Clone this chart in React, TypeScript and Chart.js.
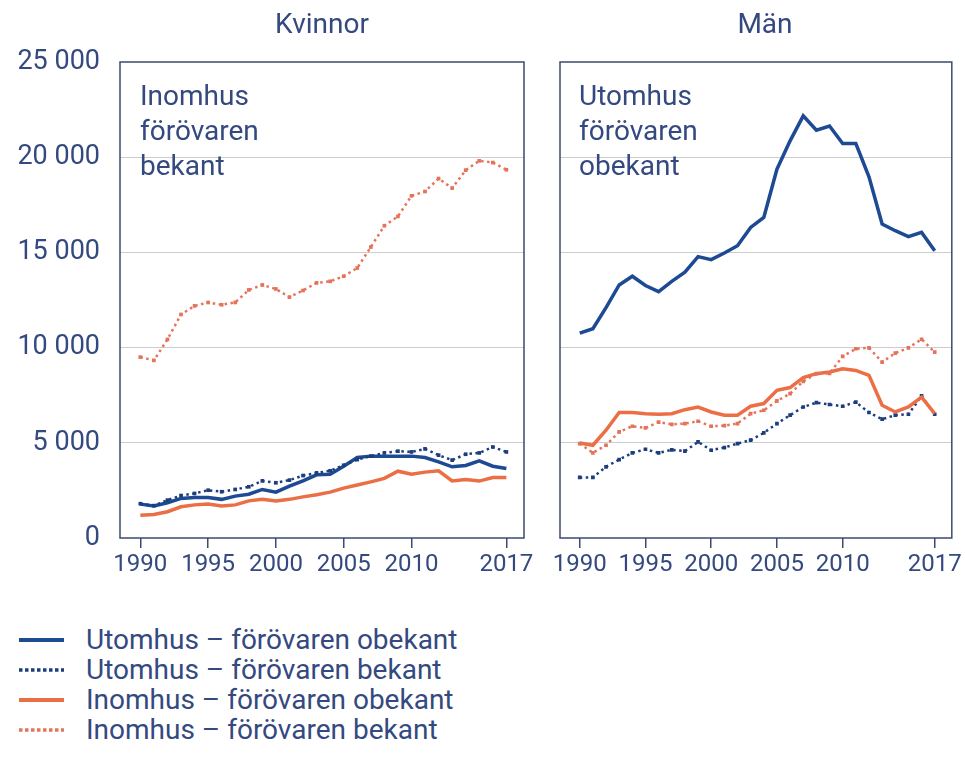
import { useEffect, useRef } from 'react';
import { Chart, registerables } from 'chart.js';

Chart.register(...registerables);

const years = [1990, 1991, 1992, 1993, 1994, 1995, 1996, 1997, 1998, 1999, 2000, 2001, 2002, 2003, 2004, 2005, 2006, 2007, 2008, 2009, 2010, 2011, 2012, 2013, 2014, 2015, 2016, 2017];
const xTickYears = [1990, 1995, 2000, 2005, 2010, 2017];
const yTickValues = [0, 5000, 10000, 15000, 20000, 25000];

const seriesLabels = [
  'Utomhus – förövaren obekant',
  'Utomhus – förövaren bekant',
  'Inomhus – förövaren obekant',
  'Inomhus – förövaren bekant',
];

// Kvinnor
const womenOutUnknown = [1780, 1680, 1850, 2080, 2130, 2130, 2030, 2200, 2300, 2550, 2410, 2720, 3000, 3320, 3350, 3770, 4230, 4300, 4300, 4300, 4300, 4230, 4000, 3740, 3810, 4050, 3770, 3650];
const womenOutKnown = [1800, 1700, 1990, 2230, 2340, 2510, 2430, 2550, 2690, 3000, 2900, 3040, 3280, 3420, 3530, 3820, 4120, 4300, 4470, 4560, 4520, 4680, 4350, 4090, 4400, 4470, 4780, 4520];
const womenInUnknown = [1200, 1240, 1380, 1640, 1740, 1780, 1680, 1740, 1950, 2030, 1950, 2030, 2160, 2270, 2410, 2620, 2780, 2950, 3130, 3510, 3350, 3460, 3530, 3000, 3070, 2990, 3180, 3180];
const womenInKnown = [9500, 9330, 10430, 11740, 12190, 12370, 12250, 12370, 13030, 13290, 13080, 12650, 13000, 13400, 13480, 13750, 14180, 15280, 16400, 16890, 17970, 18200, 18880, 18380, 19320, 19810, 19720, 19340];

// Män
const menOutUnknown = [10760, 10990, 12100, 13290, 13750, 13260, 12940, 13480, 13960, 14780, 14620, 14970, 15350, 16310, 16840, 19370, 20860, 22170, 21420, 21640, 20720, 20720, 18970, 16490, 16140, 15830, 16050, 15090];
const menOutKnown = [3180, 3180, 3740, 4120, 4470, 4660, 4470, 4630, 4560, 5050, 4610, 4750, 4960, 5140, 5520, 6010, 6450, 6880, 7110, 7010, 6920, 7140, 6590, 6240, 6450, 6500, 7460, 6500];
const menInUnknown = [4990, 4870, 5660, 6590, 6590, 6530, 6500, 6530, 6740, 6880, 6620, 6450, 6450, 6920, 7060, 7760, 7900, 8420, 8630, 8720, 8890, 8800, 8540, 6970, 6620, 6880, 7400, 6530];
const menInKnown = [4960, 4470, 4870, 5570, 5870, 5780, 6090, 5970, 6010, 6130, 5870, 5900, 6010, 6530, 6710, 7200, 7580, 8230, 8630, 8650, 9540, 9940, 9990, 9240, 9710, 9990, 10440, 9760];

const BLUE = '#1d4a92';
const BLUE_DOT = '#1c3d7e';
const ORANGE = '#eb6e45';
const ORANGE_DOT = '#e5735a';
const TEXT = '#34497f';
const FRAME = '#3b4a6d';
const GRID = '#cdcdcd';
const FONT = 'Roboto, "Noto Sans", sans-serif';

const seriesColors = [BLUE, BLUE_DOT, ORANGE, ORANGE_DOT];
const seriesDotted = [false, true, false, true];

const framePlugin = {
  id: 'frameBox',
  afterDraw(chart: any) {
    const { ctx, chartArea } = chart;
    ctx.save();
    ctx.strokeStyle = FRAME;
    ctx.lineWidth = 1.5;
    ctx.strokeRect(chartArea.left, chartArea.top, chartArea.right - chartArea.left, chartArea.bottom - chartArea.top);
    ctx.restore();
  },
};

type PanelProps = {
  series: number[][];
  showYLabels: boolean;
  width: number;
  height: number;
  plotLeft: number;
  plotRight: number;
  plotTop: number;
  plotBottom: number;
};

function Panel({ series, showYLabels, width, height, plotLeft, plotRight, plotTop, plotBottom }: PanelProps) {
  const ref = useRef<HTMLCanvasElement | null>(null);
  useEffect(() => {
    if (!ref.current) return;
    const datasets = series.map((vals, i) => ({
      label: seriesLabels[i],
      data: years.map((y, j) => ({ x: y, y: vals[j] })),
      borderColor: seriesColors[i],
      backgroundColor: seriesColors[i],
      borderWidth: seriesDotted[i] ? 2.5 : 3.5,
      borderDash: seriesDotted[i] ? [2.5, 3.5] : [],
      pointRadius: seriesDotted[i] ? 2.6 : 0,
      pointStyle: 'rect',
      pointBorderWidth: 0,
      tension: 0,
      fill: false,
    }));
    const ordered = [datasets[3], datasets[2], datasets[1], datasets[0]];
    const chart = new Chart(ref.current, {
      type: 'line',
      data: { datasets: ordered as any },
      options: {
        animation: false,
        responsive: false,
        maintainAspectRatio: false,
        layout: { padding: { top: plotTop, right: width - plotRight, left: 0, bottom: 0 } },
        plugins: { legend: { display: false }, tooltip: { enabled: false }, title: { display: false } },
        scales: {
          x: {
            type: 'linear',
            min: 1988.5,
            max: 2018.3,
            afterBuildTicks: (scale: any) => {
              scale.ticks = xTickYears.map((v) => ({ value: v }));
            },
            afterFit: (scale: any) => {
              scale.height = height - plotBottom;
            },
            ticks: {
              autoSkip: false,
              maxRotation: 0,
              padding: 3,
              color: TEXT,
              font: { family: FONT, size: 24 },
              callback: (v: any) => String(v),
            },
            grid: { drawOnChartArea: false, drawTicks: true, tickLength: 10, color: FRAME, lineWidth: 1.5 },
            border: { display: false },
          },
          y: {
            type: 'linear',
            min: 0,
            max: 25000,
            afterBuildTicks: (scale: any) => {
              scale.ticks = yTickValues.map((v) => ({ value: v }));
            },
            afterFit: (scale: any) => {
              scale.width = plotLeft;
            },
            ticks: {
              display: showYLabels,
              padding: 20,
              color: TEXT,
              font: { family: FONT, size: 27 },
              callback: (v: any) => (v === 0 ? '0' : `${Math.round(v / 1000)} 000`),
            },
            grid: {
              drawTicks: false,
              color: (ctx: any) => (ctx.tick && (ctx.tick.value === 0 || ctx.tick.value === 25000) ? 'rgba(0,0,0,0)' : GRID),
              lineWidth: 1,
            },
            border: { display: false },
          },
        },
      },
      plugins: [framePlugin],
    });
    return () => chart.destroy();
  }, []);
  return <canvas ref={ref} width={width} height={height} style={{ width, height, display: 'block' }} />;
}

function LegendRow({ label, color, dotted, top }: { label: string; color: string; dotted: boolean; top: number }) {
  return (
    <div style={{ position: 'absolute', left: 0, top, height: 30, display: 'flex', alignItems: 'center' }}>
      <svg width={86} height={30} style={{ display: 'block' }}>
        <line
          x1={19}
          y1={15}
          x2={64}
          y2={15}
          stroke={color}
          strokeWidth={dotted ? 3.5 : 4}
          strokeDasharray={dotted ? '3.5 2.5' : undefined}
        />
      </svg>
      <span style={{ fontFamily: FONT, fontSize: 28, color: TEXT, lineHeight: '30px', whiteSpace: 'nowrap' }}>{label}</span>
    </div>
  );
}

export default function App() {
  const textStyle = { fontFamily: FONT, fontSize: 28, color: TEXT, lineHeight: '35px' } as const;
  return (
    <div style={{ position: 'absolute', left: 0, top: 0, width: 965, height: 761, background: '#ffffff', overflow: 'hidden' }}>
      <div style={{ position: 'absolute', left: 0, top: 0 }}>
        <Panel
          series={[womenOutUnknown, womenOutKnown, womenInUnknown, womenInKnown]}
          showYLabels={true}
          width={540}
          height={595}
          plotLeft={120}
          plotRight={524}
          plotTop={62}
          plotBottom={538}
        />
      </div>
      <div style={{ position: 'absolute', left: 540, top: 0 }}>
        <Panel
          series={[menOutUnknown, menOutKnown, menInUnknown, menInKnown]}
          showYLabels={false}
          width={425}
          height={595}
          plotLeft={20}
          plotRight={418}
          plotTop={62}
          plotBottom={538}
        />
      </div>
      <div style={{ ...textStyle, position: 'absolute', left: 120, width: 404, top: 8, lineHeight: '32px', textAlign: 'center' }}>Kvinnor</div>
      <div style={{ ...textStyle, position: 'absolute', left: 566, width: 398, top: 8, lineHeight: '32px', textAlign: 'center' }}>Män</div>
      <div style={{ ...textStyle, position: 'absolute', left: 140, top: 78 }}>
        Inomhus<br />förövaren<br />bekant
      </div>
      <div style={{ ...textStyle, position: 'absolute', left: 579, top: 78 }}>
        Utomhus<br />förövaren<br />obekant
      </div>
      <div style={{ position: 'absolute', left: 0, top: 0 }}>
        {seriesLabels.map((l, i) => (
          <LegendRow key={l} label={l} color={seriesColors[i]} dotted={seriesDotted[i]} top={625 + i * 30} />
        ))}
      </div>
    </div>
  );
}
